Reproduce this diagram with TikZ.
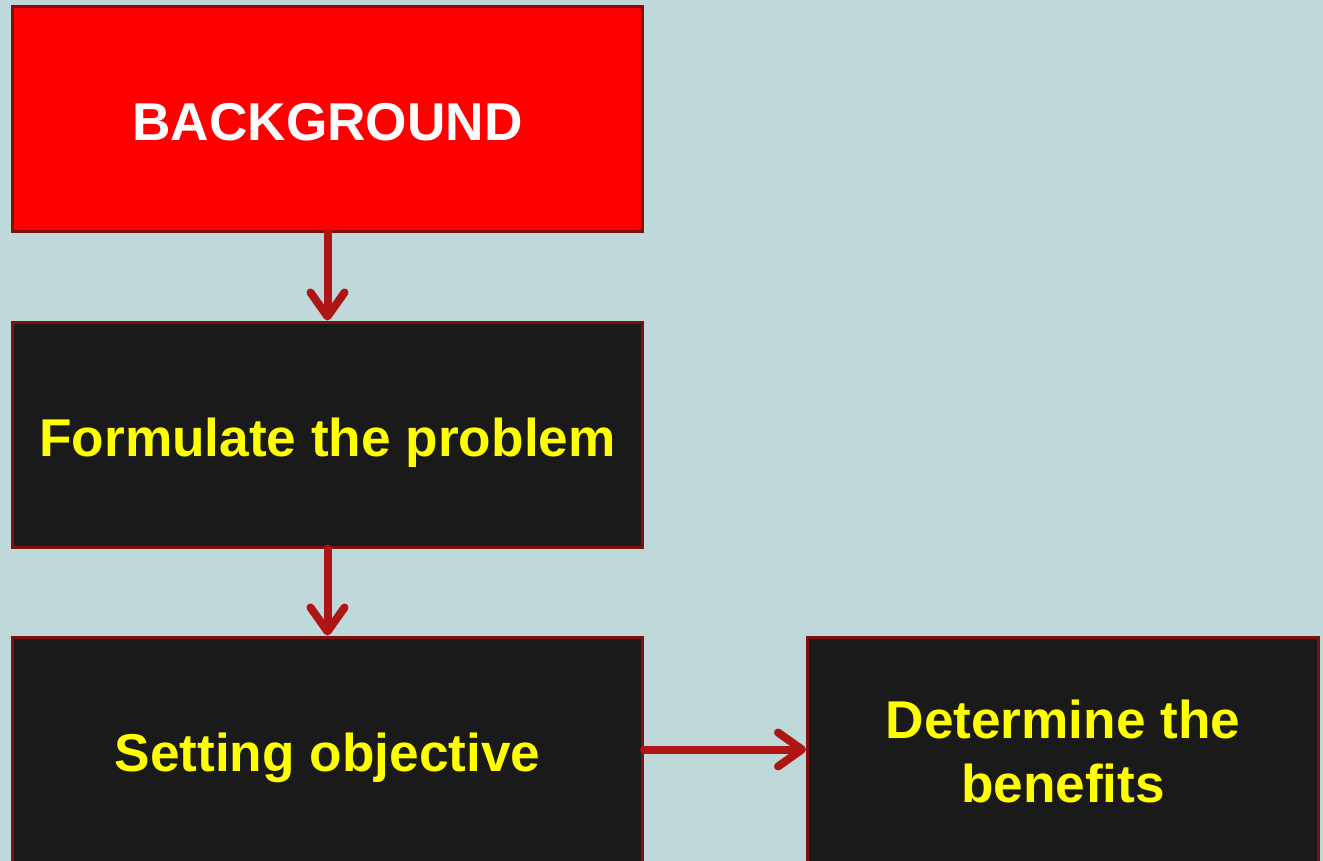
\documentclass[tikz,border=0pt]{standalone}
\usepackage{fontspec}
\setmainfont{Liberation Sans}
\usetikzlibrary{arrows.meta}
\definecolor{bgteal}{HTML}{BFD9DA}
\definecolor{boxedge}{HTML}{7F1010}
\definecolor{arrowred}{HTML}{B01515}
\definecolor{darkfill}{HTML}{1A1A1A}
\definecolor{textyellow}{HTML}{FFFF00}
\tikzset{
  stagebox/.style={draw=boxedge, line width=3pt, minimum width=630pt, minimum height=225pt,
    inner sep=0pt, align=center, text height=44pt, text depth=0pt,
    font=\fontsize{53.2}{63.5}\selectfont\bfseries},
  redbox/.style={stagebox, fill=red, text=white},
  darkbox/.style={stagebox, fill=darkfill, text=textyellow},
  flow/.style={draw=arrowred, line width=8pt, line cap=round,
    -{Straight Barb[length=24pt, width=34pt, line cap=round, line join=round]}}
}
\begin{document}
\begin{tikzpicture}[x=1pt, y=-1pt]
  \fill[bgteal] (0,0) rectangle (1323,861);
  \useasboundingbox (0,0) rectangle (1323,861);
  \node[redbox]  (bg)   at (327.5,119)   {BACKGROUND};
  \node[darkbox] (form) at (327.5,434.5) {Formulate the problem};
  \node[darkbox] (obj)  at (327.5,749.5) {Setting objective};
  \node[darkbox, minimum width=511pt, text height=105pt] (ben) at (1063,749.5) {Determine the\\benefits};
  \draw[flow] (bg.south) -- (form.north);
  \draw[flow] (form.south) -- (obj.north);
  \draw[flow] (obj.east) -- (ben.west);
\end{tikzpicture}
\end{document}
